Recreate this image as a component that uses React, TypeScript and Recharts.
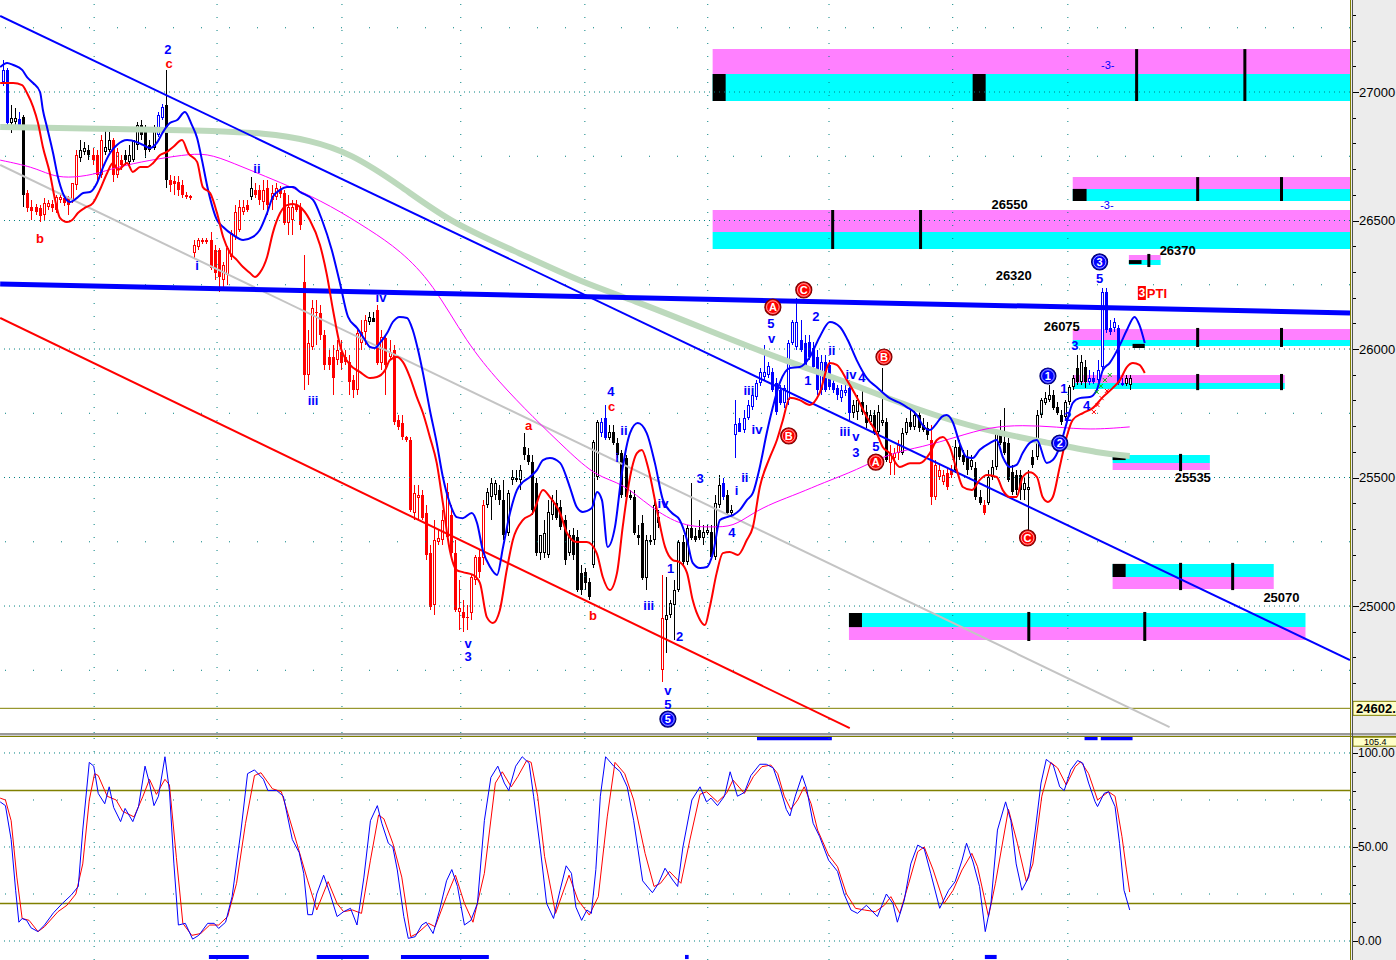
import React from "react";
import {
  ComposedChart, Bar, Line, Scatter, XAxis, YAxis,
  ReferenceLine, ReferenceArea,
} from "recharts";

const FONT = "'Liberation Sans', Arial, Helvetica, sans-serif";
const X_MIN = -0.74;
const X_MAX = 331.04;
const PRICE_MIN = 24506;
const PRICE_MAX = 27358;

// [open, high, low, close, kind]  R/r = red filled/hollow, K/W = black/white, B/b = blue filled/hollow
const candles: [number, number, number, number, string][] = [
  [27039,27125,27023,27086,"b"],[27086,27094,26872,26879,"B"],[26879,26949,26840,26899,"W"],[26883,26938,26868,26899,"W"],
  [26895,26922,26864,26872,"B"],[26903,26911,26553,26599,"K"],[26607,26619,26533,26549,"R"],[26553,26580,26502,26537,"R"],
  [26553,26564,26521,26533,"R"],[26549,26560,26494,26518,"R"],[26521,26588,26502,26568,"r"],[26553,26580,26541,26568,"r"],
  [26564,26580,26533,26549,"R"],[26541,26599,26529,26592,"r"],[26580,26599,26568,26592,"r"],[26588,26599,26556,26568,"R"],
  [26588,26595,26521,26560,"R"],[26580,26646,26568,26646,"r"],[26638,26774,26619,26755,"r"],[26743,26813,26728,26774,"W"],
  [26767,26806,26755,26782,"W"],[26774,26794,26735,26755,"K"],[26755,26782,26716,26735,"R"],[26755,26774,26658,26677,"R"],
  [26677,26833,26665,26813,"r"],[26767,26852,26755,26786,"W"],[26774,26844,26767,26813,"W"],[26813,26821,26650,26677,"R"],
  [26677,26782,26665,26767,"r"],[26735,26755,26697,26716,"R"],[26755,26774,26716,26735,"K"],[26728,26794,26716,26755,"W"],
  [26735,26813,26728,26813,"W"],[26794,26883,26774,26872,"W"],[26872,26891,26813,26833,"K"],[26852,26872,26743,26774,"K"],
  [26794,26813,26767,26774,"K"],[26782,26872,26774,26860,"W"],[26833,26922,26825,26911,"b"],[26899,26953,26891,26942,"b"],
  [26949,27086,26627,26658,"K"],[26658,26677,26611,26638,"R"],[26654,26673,26599,26642,"R"],[26650,26673,26595,26619,"R"],
  [26638,26658,26588,26599,"R"],[26599,26611,26584,26592,"R"],[26595,26599,26580,26588,"R"],
  [26374,26424,26354,26405,"r"],[26397,26432,26385,26424,"r"],[26424,26432,26409,26416,"R"],[26424,26432,26409,26416,"R"],
  [26424,26455,26307,26315,"R"],[26385,26405,26269,26296,"R"],[26385,26393,26222,26280,"R"],[26269,26339,26237,26327,"r"],
  [26288,26401,26249,26393,"r"],[26358,26463,26346,26451,"r"],[26436,26560,26424,26533,"r"],[26463,26580,26455,26553,"r"],
  [26533,26580,26521,26553,"r"],[26560,26580,26533,26541,"R"],[26592,26669,26580,26627,"W"],[26619,26646,26588,26599,"R"],
  [26619,26638,26560,26580,"R"],[26572,26658,26541,26619,"r"],[26627,26658,26521,26560,"R"],[26580,26638,26541,26607,"r"],
  [26592,26646,26580,26627,"r"],[26619,26634,26588,26603,"R"],[26607,26619,26483,26490,"R"],[26490,26599,26444,26553,"r"],
  [26502,26580,26444,26553,"r"],[26560,26580,26533,26541,"R"],[26553,26568,26463,26483,"R"],
  [26261,26366,25840,25899,"R"],[25899,26074,25860,26023,"r"],[26008,26191,25996,26160,"r"],[26140,26191,26016,26144,"r"],
  [26140,26171,26035,26055,"R"],[26055,26074,25918,25938,"R"],[25969,25996,25918,25938,"R"],[25969,26016,25821,25887,"R"],
  [25957,26035,25938,25996,"r"],[25988,26035,25918,25946,"R"],[25969,25996,25938,25949,"R"],[25949,25977,25821,25872,"R"],
  [25879,25899,25809,25840,"R"],[25840,26074,25821,26062,"r"],[26023,26113,25996,26066,"r"],[26066,26132,26016,26113,"r"],
  [26105,26144,26093,26124,"W"],[26121,26144,26105,26105,"K"],[26152,26171,25938,25946,"R"],[25946,26074,25918,26047,"r"],
  [26043,26055,25821,25938,"R"],[25969,26035,25957,25988,"r"],[25996,26016,25704,25716,"R"],[25724,25743,25685,25696,"R"],
  [25712,25743,25646,25657,"R"],[25657,25660,25638,25646,"R"],[25646,25657,25366,25374,"R"],[25362,25471,25335,25440,"r"],
  [25420,25471,25335,25432,"r"],[25432,25451,25335,25343,"R"],[25362,25393,25179,25199,"R"],[25206,25237,24984,24996,"R"],
  [25004,25335,24965,25257,"r"],[25249,25296,25237,25265,"r"],[25257,25374,25237,25335,"r"],[25269,25479,25257,25444,"r"],
  [25354,25393,25179,25206,"R"],[25206,25257,24977,24984,"R"],[24977,25101,24907,24992,"r"],[24977,25023,24899,24953,"R"],
  [24953,25004,24907,24957,"r"],[24973,25120,24946,25113,"r"],[25101,25199,25082,25191,"r"],[25191,25218,25109,25132,"R"],
  [25187,25412,25160,25393,"r"],[25393,25459,25381,25444,"W"],[25424,25498,25335,25479,"W"],[25432,25490,25412,25479,"W"],
  [25451,25471,25393,25412,"K"],[25412,25490,25257,25276,"K"],[25284,25451,25272,25440,"W"],[25490,25529,25471,25502,"W"],
  [25490,25529,25482,25498,"W"],[25490,25549,25451,25529,"W"],[25619,25673,25568,25588,"K"],[25588,25615,25549,25560,"K"],
  [25560,25588,25354,25374,"K"],[25479,25498,25195,25206,"K"],
  [25206,25276,25179,25276,"W"],[25206,25335,25187,25284,"W"],[25199,25412,25187,25366,"W"],[25354,25432,25335,25412,"W"],
  [25401,25451,25335,25343,"K"],[25385,25412,25296,25308,"K"],[25335,25354,25160,25179,"K"],[25206,25296,25195,25276,"W"],
  [25276,25304,25179,25199,"K"],[25269,25296,25055,25062,"K"],[25129,25160,25043,25062,"K"],[25132,25148,25062,25090,"K"],
  [25093,25109,25023,25035,"K"],[25160,25646,25148,25638,"W"],[25502,25724,25490,25716,"W"],[25673,25732,25658,25716,"b"],
  [25732,25782,25646,25654,"B"],[25654,25704,25646,25677,"W"],[25677,25704,25626,25634,"K"],[25634,25654,25576,25588,"K"],
  [25595,25607,25420,25432,"K"],[25576,25588,25412,25424,"K"],[25432,25451,25412,25420,"K"],[25424,25451,25276,25284,"K"],
  [25276,25315,25237,25265,"K"],[25323,25354,25101,25109,"K"],[25109,25276,25062,25257,"W"],[25249,25276,25237,25257,"W"],
  [25257,25412,25237,25393,"W"],[25346,25374,25304,25323,"K"],[24751,25121,24704,24953,"r"],[24946,25113,24817,24965,"W"],
  [24965,25023,24953,25012,"W"],[25004,25101,24868,25062,"W"],[25062,25257,25055,25249,"W"],[25249,25276,25160,25171,"K"],
  [25171,25315,25160,25304,"W"],[25304,25479,25257,25265,"K"],[25273,25304,25249,25257,"K"],[25296,25335,25257,25265,"K"],
  [25265,25315,25237,25288,"W"],[25284,25315,25276,25296,"W"],[25288,25315,25179,25191,"K"],[25191,25432,25179,25401,"W"],
  [25393,25510,25381,25471,"W"],[25479,25498,25412,25424,"B"],[25432,25451,25354,25362,"K"],[25362,25393,25354,25374,"W"],
  [25665,25801,25576,25708,"b"],[25712,25732,25677,25677,"B"],[25685,25763,25673,25732,"b"],[25732,25801,25724,25782,"b"],
  [25774,25840,25763,25821,"b"],[25813,25879,25801,25868,"b"],[25868,25926,25856,25911,"b"],[25891,26016,25879,25911,"b"],
  [25899,25949,25887,25934,"b"],[25911,25926,25833,25840,"B"],[25868,25887,25743,25755,"B"],[25840,25860,25782,25790,"B"],
  [25790,25860,25771,25848,"b"],[25801,26035,25782,26023,"b"],[26023,26113,26016,26105,"b"],
  [26008,26199,25996,26105,"b"],[26035,26113,25988,25996,"B"],[26023,26055,25918,25930,"B"],[26027,26055,25957,25969,"B"],
  [26004,26027,25911,25930,"B"],[25969,25996,25821,25840,"B"],[25840,25977,25821,25949,"b"],[25949,25977,25833,25840,"B"],
  [25938,25957,25840,25852,"B"],[25868,25887,25829,25840,"B"],[25848,25860,25801,25821,"B"],[25809,25860,25794,25840,"b"],
  [25829,25860,25817,25840,"b"],[25848,25879,25724,25751,"B"],[25751,25801,25732,25782,"W"],[25755,25821,25724,25801,"W"],
  [25794,25840,25743,25755,"K"],[25755,25782,25693,25712,"K"],[25716,25763,25704,25743,"W"],[25743,25763,25665,25677,"K"],
  [25677,25782,25665,25755,"W"],[25712,25926,25700,25724,"W"],[25716,25732,25560,25568,"K"],[25556,25626,25510,25595,"r"],
  [25576,25615,25510,25595,"r"],[25595,25646,25568,25626,"r"],[25595,25693,25588,25673,"W"],[25673,25732,25665,25716,"W"],
  [25716,25782,25685,25696,"K"],[25696,25763,25685,25743,"W"],[25743,25763,25677,25693,"K"],[25704,25732,25677,25685,"K"],
  [25693,25716,25646,25665,"K"],[25646,25704,25393,25424,"R"],[25424,25568,25412,25549,"r"],[25502,25549,25490,25529,"r"],
  [25482,25529,25471,25510,"r"],[25518,25537,25451,25463,"R"],[25529,25549,25498,25510,"R"],[25529,25646,25518,25619,"W"],
  [25619,25646,25568,25580,"K"],[25588,25607,25549,25560,"K"],[25580,25607,25510,25529,"K"],[25541,25588,25529,25568,"W"],
  [25537,25560,25412,25424,"K"],[25424,25451,25393,25401,"K"],[25393,25412,25354,25362,"R"],[25401,25529,25393,25502,"W"],
  [25502,25568,25490,25541,"W"],[25541,25685,25529,25673,"W"],[25673,25724,25626,25634,"K"],[25638,25771,25588,25595,"K"],
  [25634,25654,25482,25490,"K"],[25521,25549,25432,25444,"K"],[25510,25529,25432,25451,"K"],[25510,25529,25412,25451,"K"],
  [25451,25498,25412,25479,"W"],[25451,25529,25288,25463,"W"],[25580,25607,25537,25549,"K"],[25580,25763,25568,25743,"W"],
  [25743,25809,25732,25801,"W"],[25790,25833,25782,25809,"W"],[25801,25860,25794,25821,"W"],[25821,25840,25763,25770,"K"],
  [25774,25794,25743,25751,"K"],[25743,25763,25704,25716,"K"],[25736,25801,25724,25794,"W"],[25794,25860,25782,25852,"W"],
  [25852,25899,25840,25887,"W"],[25926,25977,25860,25872,"K"],[25872,25977,25860,25949,"W"],[25930,25957,25848,25872,"K"],
  [25872,25918,25860,25887,"b"],[25887,25911,25864,25872,"B"],[25879,25957,25872,25918,"b"],[25930,26237,25918,26222,"b"],
  [26222,26237,26062,26074,"B"],[26082,26113,26055,26066,"B"],[26082,26121,26066,26105,"b"],[26082,26093,25860,25868,"B"],
  [25868,25887,25856,25860,"B"],[25864,25899,25856,25887,"W"],[25860,25899,25840,25887,"W"],
];

// [bar index, price]
const bandUpper: [number, number][] = [
  [-0.7,27097],[1.0,27113],[2.5,27105],[4.7,27086],[5.9,27058],[7.4,27035],[9.1,27000],[9.8,26930],[10.8,26864],
  [12.3,26763],[13.5,26669],[14.7,26607],[16.5,26572],[18.2,26588],[19.7,26607],[21.4,26611],[23.1,26646],[24.6,26708],
  [26.3,26763],[28.0,26794],[30.5,26813],[32.9,26805],[34.4,26794],[36.1,26782],[37.8,26802],[39.3,26844],[41.0,26879],
  [42.8,26891],[44.7,26922],[46.4,26872],[47.7,26821],[48.9,26735],[50.4,26619],[52.6,26502],[54.1,26475],[56.5,26444],
  [59.0,26424],[61.4,26436],[63.1,26463],[64.9,26529],[66.3,26592],[68.1,26619],[69.8,26630],[71.3,26630],[73.0,26611],
  [76.2,26580],[78.4,26502],[80.8,26385],[82.8,26257],[84.8,26125],[87.0,26082],[88.5,26047],[90.2,26008],[91.4,26004],
  [92.6,26023],[94.4,26062],[95.8,26105],[97.5,26125],[99.3,26121],[100.7,26074],[102.0,25996],[103.2,25907],[104.9,25763],
  [106.6,25634],[108.1,25502],[109.8,25401],[111.5,25346],[113.0,25342],[115.2,25362],[116.5,25323],[117.9,25218],
  [119.7,25152],[121.4,25121],[122.9,25230],[124.6,25362],[126.3,25451],[127.8,25483],[129.5,25502],[131.2,25529],
  [132.7,25568],[134.4,25576],[136.9,25557],[139.3,25463],[141.0,25385],[142.5,25366],[144.7,25381],[146.0,25444],
  [147.2,25412],[148.6,25230],[150.4,25308],[152.1,25518],[154.1,25673],[156.0,25712],[158.2,25673],[160.2,25557],
  [162.2,25412],[164.4,25362],[166.3,25335],[168.1,25257],[169.5,25168],[171.3,25148],[173.0,25152],[174.5,25206],
  [176.2,25335],[177.9,25346],[179.4,25354],[181.1,25374],[182.8,25412],[184.3,25440],[186.0,25541],[187.7,25673],
  [189.2,25774],[190.9,25868],[193.4,25926],[195.8,25930],[198.3,25969],[200.7,26047],[203.2,26105],[205.7,26086],
  [207.6,26035],[209.8,25957],[212.3,25887],[214.7,25852],[217.9,25809],[220.4,25790],[222.1,25774],[224.6,25743],
  [226.0,25704],[227.8,25685],[229.5,25712],[230.7,25736],[231.9,25743],[233.4,25716],[235.1,25634],[236.8,25580],
  [238.3,25576],[240.0,25607],[242.5,25634],[244.2,25646],[245.7,25580],[247.4,25541],[249.1,25549],[250.6,25595],
  [252.3,25634],[254.1,25646],[256.5,25557],[258.0,25568],[259.7,25619],[261.4,25712],[262.9,25790],[264.6,25809],
  [267.1,25813],[268.8,25840],[270.3,25918],[272.0,25946],[274.5,26016],[276.2,26074],[278.1,26125],[279.3,26093],
  [280.6,26023],
];

const bandLower: [number, number][] = [
  [-0.7,27035],[2.5,27035],[4.7,27027],[5.9,26996],[7.4,26942],[8.6,26879],[9.8,26786],[11.5,26685],[12.8,26580],
  [14.0,26510],[15.7,26494],[17.0,26502],[18.4,26529],[20.1,26549],[22.1,26568],[23.8,26619],[25.6,26685],[27.0,26724],
  [28.3,26697],[30.5,26724],[31.9,26689],[33.7,26708],[35.4,26708],[36.9,26724],[38.6,26755],[40.3,26767],[41.8,26786],
  [44.0,26813],[45.5,26763],[47.7,26728],[49.1,26630],[50.9,26607],[52.6,26529],[54.1,26436],[55.8,26374],[57.5,26346],
  [59.0,26319],[60.7,26296],[61.9,26280],[63.1,26296],[64.9,26358],[66.3,26451],[68.1,26529],[69.8,26560],[71.3,26564],
  [73.0,26553],[75.4,26502],[77.9,26405],[79.6,26288],[81.1,26152],[82.8,26016],[85.3,25938],[87.7,25911],[90.2,25887],
  [91.9,25891],[93.9,25918],[95.1,25957],[96.8,25969],[98.3,25949],[100.0,25891],[101.7,25813],[103.2,25751],
  [104.9,25658],[106.6,25556],[108.1,25401],[109.8,25218],[111.5,25140],[113.0,25132],[115.5,25121],[117.2,25090],
  [118.9,24957],[120.4,24934],[122.1,24984],[123.8,25140],[125.3,25257],[127.8,25335],[130.2,25362],[132.7,25451],
  [134.4,25424],[136.9,25362],[138.6,25284],[141.0,25249],[143.5,25249],[145.9,25206],[147.4,25113],[149.1,25062],
  [150.9,25129],[152.3,25308],[154.1,25502],[155.8,25595],[157.0,25607],[158.5,25541],[160.7,25374],[162.7,25230],
  [164.6,25179],[166.3,25171],[168.1,25129],[169.5,25023],[171.3,24946],[172.5,24926],[173.7,24996],[175.4,25129],
  [176.9,25206],[178.6,25210],[180.6,25199],[182.8,25257],[184.3,25308],[186.0,25463],[188.5,25580],[190.2,25646],
  [191.6,25720],[193.4,25810],[195.8,25801],[198.3,25782],[200.7,25829],[203.2,25946],[204.9,25938],[207.4,25879],
  [209.8,25813],[212.3,25735],[214.7,25673],[216.2,25619],[217.9,25595],[220.4,25541],[222.9,25556],[225.3,25556],
  [227.8,25595],[229.5,25646],[231.0,25658],[232.7,25619],[234.4,25529],[235.9,25463],[238.1,25451],[240.0,25490],
  [241.8,25510],[244.2,25502],[245.7,25451],[247.4,25424],[249.1,25424],[250.6,25502],[252.3,25521],[254.1,25502],
  [255.5,25424],[256.8,25405],[258.0,25424],[259.7,25541],[261.4,25658],[262.9,25724],[265.4,25751],[267.8,25770],
  [270.3,25813],[272.7,25848],[274.5,25879],[276.2,25930],[277.7,25946],[279.3,25938],[280.6,25907],
];

const maSlow: [number, number][] = [
  [-0.7,26864],[23.8,26856],[48.4,26852],[64.9,26840],[75.4,26813],[85.3,26763],[97.5,26638],[109.8,26494],
  [125.3,26385],[142.5,26257],[154.8,26191],[171.3,26086],[191.6,25957],[208.1,25868],[224.6,25763],[240.8,25685],
  [257.2,25634],[269.5,25595],[276.9,25584],
];

const maMid: [number, number][] = [
  [-0.7,26735],[7.4,26708],[11.5,26677],[15.7,26665],[22.1,26677],[28.0,26708],[36.1,26735],[44.2,26755],[50.1,26763],
  [56.5,26724],[64.9,26669],[71.3,26627],[80.3,26560],[90.2,26463],[97.5,26385],[105.6,26257],[114.0,26023],
  [122.1,25868],[130.2,25736],[138.6,25607],[145.9,25502],[152.3,25479],[159.0,25385],[167.1,25308],[174.5,25308],
  [179.4,25308],[184.3,25362],[189.2,25401],[195.8,25440],[201.5,25479],[209.8,25529],[217.9,25595],[226.0,25619],
  [234.4,25658],[242.5,25697],[250.6,25704],[258.9,25697],[267.1,25685],[276.9,25697],
];

const trendTop: [number, number][] = [[-0.7, 27296], [X_MAX, 24790]];
const trendFlat: [number, number][] = [[-0.7, 26253], [X_MAX, 26140]];
const trendGray: [number, number][] = [[-0.7, 26716], [286.7, 24529]];
const trendRed: [number, number][] = [[-0.7, 26121], [208.1, 24525]];

// target boxes: [from bar, to bar, low, high, kind]
const zoneBands: [number, number, number, number, string][] = [
  [174.4, X_MAX, 27070, 27167, "pink"], [174.4, X_MAX, 26965, 27070, "cyan"],
  [174.4, 177.6, 26965, 27070, "mark"], [238.3, 241.5, 26965, 27070, "mark"],
  [174.4, X_MAX, 26455, 26541, "pink"], [174.4, X_MAX, 26389, 26455, "cyan"],
  [262.9, X_MAX, 26623, 26669, "pink"], [262.9, X_MAX, 26576, 26623, "cyan"], [262.9, 266.3, 26576, 26623, "mark"],
  [276.7, 284.5, 26346, 26366, "pink"], [276.7, 284.5, 26327, 26346, "cyan"], [276.7, 279.8, 26331, 26346, "mark"],
  [262.9, X_MAX, 26035, 26078, "pink"], [262.9, X_MAX, 26012, 26035, "cyan"], [277.6, 280.6, 26004, 26020, "mark"],
  [262.9, 315.0, 25868, 25899, "pink"], [262.9, 315.0, 25844, 25868, "cyan"],
  [272.7, 296.6, 25557, 25588, "cyan"], [272.7, 296.6, 25529, 25557, "pink"], [272.7, 275.9, 25568, 25588, "mark"],
  [272.7, 312.3, 25113, 25164, "cyan"], [272.7, 312.3, 25066, 25113, "pink"], [272.7, 275.9, 25113, 25164, "mark"],
  [207.9, 320.1, 24918, 24973, "cyan"], [207.9, 320.1, 24868, 24918, "pink"], [207.9, 211.1, 24918, 24973, "mark"],
];

// [bar, low, high]
const zoneTicks: [number, number, number][] = [
  [278.6, 26965, 27167], [305.2, 26965, 27167],
  [203.9, 26389, 26541], [225.5, 26389, 26541],
  [293.6, 26576, 26669], [314.2, 26576, 26669],
  [281.6, 26319, 26370],
  [293.6, 26008, 26082], [314.2, 26008, 26082],
  [293.6, 25840, 25903], [314.2, 25840, 25903],
  [289.4, 25525, 25592],
  [289.4, 25062, 25168], [302.2, 25062, 25168],
  [252.1, 24864, 24977], [280.6, 24864, 24977],
];

// [bar, price, text, tone]
const waveText: [number, number, string, string][] = [
  [40.5,27167,"2","blue"],[40.8,27113,"c","red"],[9.1,26432,"b","red"],[47.7,26327,"i","blue"],[62.4,26704,"ii","blue"],
  [76.2,25801,"iii","blue"],[92.9,26202,"iv","blue"],[114.3,24856,"v","blue"],[114.3,24802,"3","blue"],[129.2,25704,"a","red"],
  [149.4,25833,"4","blue"],[149.6,25778,"c","red"],[152.6,25685,"ii","blue"],[150.9,25580,"i","blue"],[145.0,24965,"b","red"],
  [158.7,25004,"iii","blue"],[162.2,25401,"iv","blue"],[163.4,24673,"v","blue"],[163.4,24619,"5","blue"],[164.1,25148,"1","blue"],
  [166.3,24883,"2","blue"],[171.3,25498,"3","blue"],[180.3,25448,"i","blue"],[179.1,25288,"4","blue"],[182.3,25502,"ii","blue"],
  [185.3,25689,"iv","blue"],[183.3,25837,"iii","blue"],[188.7,26101,"5","blue"],[188.9,26043,"v","blue"],[199.8,26128,"2","blue"],
  [197.8,25879,"1","blue"],[203.7,25996,"ii","blue"],[208.4,25903,"iv","blue"],[211.1,25891,"4","blue"],[206.9,25681,"iii","blue"],
  [209.6,25658,"v","blue"],[209.6,25599,"3","blue"],[214.5,25619,"5","blue"],[260.7,25848,"1","blue"],[261.7,25739,"2","blue"],
  [263.4,26012,"3","blue"],[266.3,25782,"4","blue"],[269.5,26276,"5","blue"],
];

const waveRings: [number, number, string, string][] = [
  [163.4,24560,"5","blue"],[189.2,26163,"A","red"],[196.8,26230,"C","red"],[193.1,25662,"B","red"],
  [216.5,25969,"B","red"],[214.5,25560,"A","red"],[251.8,25265,"C","red"],[256.8,25895,"1","blue"],
  [259.7,25634,"2","blue"],[269.5,26339,"3","blue"],
];

const levelText: [number, number, string][] = [
  [247.4,26564,"26550"],[248.4,26288,"26320"],[288.7,26385,"26370"],[260.2,26086,"26075"],
  [292.4,25502,"25535"],[314.2,25035,"25070"],
];

const countTags: [number, number, string][] = [[271.5, 27105, "-3-"], [271.3, 26560, "-3-"]];
const ptiMark: [number, number, string][] = [[282.1, 26218, "PTI"]];

const crossUp: [number, number][] = [[268.8,25833],[269.8,25856],[270.8,25879],[272.0,25899]];
const crossDown: [number, number][] = [[268.1,25755],[269.0,25782],[270.0,25809],[271.3,25837]];

const gridX = [22.4, 52.6, 83.3, 112.5, 143.0, 173.2, 203.0, 233.4, 261.7];
const priceGridMajor = [25000, 25500, 26000, 26500, 27000];
const priceGridMinor = [24750, 25250, 25750, 26250, 26750, 27250];
const priceTicks = [24602, ...Array.from({ length: 27 }, (_, k) => 24700 + k * 100)];

// ---- stochastic pane ----
const stochK: [number, number][] = [
  [-0.7,74],[0.6,72],[2.0,54],[3.1,27],[3.9,10],[4.7,12],[5.8,11],[6.9,7],[8.6,5],[10.2,8.5],[12.4,15],[14.6,20],
  [16.8,24.5],[18.5,29],[19.6,59],[21.2,95],[22.3,93],[23.4,78.5],[25.0,73],[26.1,82],[27.2,71],[28.9,63.5],[30.0,70.5],
  [31.9,63.5],[33.3,71.5],[34.9,93],[36.0,84],[37.1,72],[38.2,77],[39.8,98],[40.9,80],[42.0,41],[43.1,8.5],[44.8,9.4],
  [46.6,1],[48.1,3],[50.3,9.4],[51.9,9.4],[53.0,6.7],[54.7,10],[56.3,23.6],[58.5,59],[60.1,89],[61.8,91],[64.0,86],
  [65.1,80],[67.3,80],[68.9,77],[71.1,54],[72.8,47],[73.9,36],[74.9,14],[76.0,14],[77.1,25],[78.8,35],[80.4,25],
  [82.1,13],[83.7,15.6],[85.4,17.4],[87.0,8.5],[88.7,34],[90.3,64],[92.0,72],[93.1,62.6],[94.7,52],[95.8,50],[96.9,37.8],
  [98.5,13],[99.6,1.4],[101.3,2.3],[102.9,8.5],[104.0,10],[105.7,4],[107.3,16.5],[109.0,32],[110.3,38],[111.7,29],
  [113.4,8.5],[115.0,11],[116.6,20],[118.3,64],[119.9,87],[121.6,93],[123.2,84],[124.3,80],[126.0,93],[127.6,98],
  [129.3,94.5],[130.4,77],[132.0,50],[133.6,20],[135.3,12],[136.9,27],[138.4,40],[139.7,36],[140.8,18],[142.2,11],
  [143.5,16.5],[144.6,14.7],[145.7,38],[146.8,77],[148.1,98],[150.1,93],[151.7,90],[153.4,82],[155.0,64],[157.2,32],
  [159.6,25.7],[161.1,30.7],[162.7,38.7],[164.4,33],[165.8,29],[167.1,50],[169.3,75],[171.3,82],[172.9,74],[174.0,76],
  [175.6,72],[177.3,77],[178.7,90],[180.5,77],[182.2,79],[183.8,88],[186.0,94],[187.6,94],[189.3,92],[190.9,82],
  [192.5,70],[193.4,66.5],[194.7,77],[196.4,88],[197.5,81],[199.1,62.6],[200.7,55.5],[202.9,43],[205.1,37],[206.7,25],
  [208.4,16.5],[210.0,14.7],[212.2,19],[214.9,13],[217.1,25],[218.7,20],[219.8,10],[221.5,21.8],[223.1,41],[224.8,51],
  [226.4,49],[228.0,36],[230.2,17.4],[232.4,27],[234.0,31.6],[235.7,43],[236.8,52],[238.4,42],[240.0,29],[241.4,5],
  [242.8,20],[244.4,59],[246.4,74],[247.7,64],[249.0,41],[250.4,27],[252.1,34],[253.7,59],[255.1,84],[256.4,96.6],
  [258.1,93.6],[259.7,82],[260.8,80],[262.4,91],[264.1,96],[265.4,94.5],[266.8,84],[268.4,74],[269.0,71.5],[270.6,78.5],
  [271.7,79.4],[273.3,71.5],[274.4,52],[275.5,27],[276.9,16.5],
];

const stochD: [number, number][] = [
  [-0.7,76],[0.6,75],[2.0,64],[3.4,34],[4.7,12],[6.4,11],[8.6,5],[10.2,7.6],[13.5,15.6],[15.7,19],[17.9,25],[19.6,41],
  [21.2,75],[22.5,89],[23.4,88],[25.6,77],[27.8,75],[29.4,69],[32.2,66],[34.4,77],[36.0,86],[37.7,78],[39.8,86],
  [40.9,83],[42.6,44.5],[44.2,9.4],[46.4,3],[48.6,4],[50.8,8.5],[53.0,8.5],[55.2,13],[57.4,30.7],[59.6,62.6],[61.8,88],
  [63.4,89.5],[66.2,81],[68.4,79.4],[70.0,68],[72.2,52],[74.9,32],[77.1,16.5],[79.9,31.6],[82.1,20],[83.7,15.6],
  [85.9,16.5],[88.1,14.7],[90.3,43],[92.3,67],[93.6,65],[95.8,52],[98.0,34],[100.2,2.3],[101.8,4],[104.6,9.4],[106.2,7.6],
  [109.0,23.6],[111.2,35],[113.4,20],[115.5,10],[118.3,36],[121.0,84],[122.7,90],[124.9,82],[126.5,87.4],[128.7,96],
  [129.8,95],[131.4,77],[133.1,45],[135.8,14.7],[139.1,35],[141.3,21.8],[144.1,13.8],[146.3,23.6],[148.5,66],[150.4,95],
  [152.8,89],[155.0,75],[157.8,46.6],[160.0,29],[161.6,30.7],[163.8,37],[166.6,30.7],[168.8,53.7],[171.3,78],[172.9,79.4],
  [175.6,74],[177.8,78.5],[179.4,85.6],[182.2,78.5],[184.4,87.4],[186.5,92.7],[188.7,93.6],[190.4,89],[192.0,77],
  [193.6,70],[195.3,75],[196.9,82],[198.6,73],[200.2,59],[202.9,45.7],[205.1,39.5],[207.3,25],[209.5,17.4],[211.7,16.5],
  [214.4,15.6],[216.6,19],[218.2,23.6],[220.4,14.7],[222.6,30.7],[224.8,47.5],[226.4,50],[228.6,37.8],[231.3,20],
  [233.5,27],[235.7,37.8],[238.1,46.6],[239.5,39.5],[242.2,13],[243.9,30.7],[247.1,70],[249.3,52],[251.5,31.6],
  [253.1,41],[255.3,77],[257.5,95],[259.2,92],[261.3,83],[263.5,92.7],[264.9,95.4],[266.8,89],[269.0,75],[271.7,79.4],
  [273.3,77],[275.0,55.5],[276.1,37.8],[276.9,26],
];

// signal strips: [from bar, to bar, low, high]
const stochStrips: [number, number, number, number][] = [
  [185.3, 203.7, 106.8, 108.5], [265.8, 269.0, 106.8, 108.5], [269.8, 277.6, 106.8, 108.5],
  [50.6, 60.4, -9.6, -7.4], [77.1, 89.9, -9.6, -7.4], [97.8, 119.4, -9.6, -7.4],
  [167.6, 168.5, -9.6, -7.4], [241.3, 244.2, -9.6, -7.4],
];
const stochTicks = [0, 10, 20, 30, 40, 50, 60, 70, 80, 90, 100, 106.0];

const BLUE = "#0000ff";
const RED = "#ff0000";
const ZONE_FILL: Record<string, string> = { pink: "#ff80ff", cyan: "#00ffff", mark: "#000000" };
const CANDLE_COLOR: Record<string, string> = { R: RED, r: RED, K: "#000", W: "#000", B: BLUE, b: BLUE };
const HOLLOW: Record<string, boolean> = { r: true, W: true, b: true };

const rows = candles.map(([o, h, l, c, k], i) => ({ i, o, h, l, c, k }));
const pts = (a: [number, number][]) => a.map(([i, v]) => ({ i, v }));

function Candle(props: any) {
  const { x, y, width, height, payload } = props;
  if (!payload || y == null || isNaN(y)) return <g />;
  const top = Math.min(y, y + height);
  const span = Math.abs(height);
  const { o, h, l, c, k } = payload;
  const color = CANDLE_COLOR[k];
  const per = span / (h - l || 1);
  const yo = top + (h - o) * per;
  const yc = top + (h - c) * per;
  const bTop = Math.round(Math.min(yo, yc));
  const bH = Math.max(1, Math.round(Math.abs(yo - yc)));
  const cx = Math.round(x + width / 2);
  return (
    <g shapeRendering="crispEdges">
      <line x1={cx + 0.5} x2={cx + 0.5} y1={Math.round(top)} y2={Math.round(top + span)} stroke={color} strokeWidth={1} />
      <rect x={cx - 0.5} y={bTop + 0.5} width={2} height={Math.max(0.01, bH - 1)}
        fill={HOLLOW[k] ? "#fff" : color} stroke={color} strokeWidth={1} />
    </g>
  );
}

function WaveText(props: any) {
  const { cx, cy, payload } = props;
  if (cx == null || cy == null) return <g />;
  return (
    <text x={cx} y={cy} dy="0.35em" textAnchor="middle" fontFamily={FONT} fontSize={13} fontWeight={700}
      fill={payload.tone === "red" ? RED : BLUE}>{payload.t}</text>
  );
}

function WaveRing(props: any) {
  const { cx, cy, payload } = props;
  if (cx == null || cy == null) return <g />;
  const red = payload.tone === "red";
  return (
    <g>
      <circle cx={cx} cy={cy} r={8} fill={red ? RED : BLUE} stroke={red ? "#7a0000" : "#00006e"} strokeWidth={1.2} />
      <circle cx={cx} cy={cy} r={6.3} fill="none" stroke="#fff" strokeWidth={0.8} opacity={0.8} />
      <text x={cx} y={cy} dy="0.36em" textAnchor="middle" fontFamily={FONT} fontSize={11} fontWeight={700} fill="#fff">
        {payload.t}
      </text>
    </g>
  );
}

function LevelText(props: any) {
  const { cx, cy, payload } = props;
  if (cx == null || cy == null) return <g />;
  return (
    <text x={cx} y={cy} dy="0.35em" textAnchor="middle" fontFamily={FONT} fontSize={13} fontWeight={700} fill="#000">
      {payload.t}
    </text>
  );
}

function TagText(props: any) {
  const { cx, cy, payload } = props;
  if (cx == null || cy == null) return <g />;
  return (
    <text x={cx} y={cy} dy="0.35em" textAnchor="middle" fontFamily={FONT} fontSize={11} fill={BLUE}>{payload.t}</text>
  );
}

function PtiText(props: any) {
  const { cx, cy, payload } = props;
  if (cx == null || cy == null) return <g />;
  return (
    <g>
      <rect x={cx - 13} y={cy - 7} width={8} height={14} fill={RED} />
      <text x={cx - 9} y={cy} dy="0.36em" textAnchor="middle" fontFamily={FONT} fontSize={12} fontWeight={700} fill="#fff">3</text>
      <text x={cx - 4} y={cy} dy="0.36em" fontFamily={FONT} fontSize={13} fontWeight={700} fill={RED}>{payload.t}</text>
    </g>
  );
}

function Cross(props: any) {
  const { cx, cy, payload } = props;
  if (cx == null || cy == null) return <g />;
  const col = payload.up ? "#00c000" : RED;
  return (
    <g stroke={col} strokeWidth={1}>
      <line x1={cx - 2} y1={cy - 2} x2={cx + 2} y2={cy + 2} />
      <line x1={cx - 2} y1={cy + 2} x2={cx + 2} y2={cy - 2} />
    </g>
  );
}

function PriceTick(props: any) {
  const { y, payload } = props;
  const v = payload.value;
  const ax = 1350;
  if (v === 24602) {
    return (
      <g>
        <rect x={ax + 3} y={y - 7} width={46} height={14} fill="#ffffc8" stroke="#808000" />
        <text x={ax + 6} y={y} dy="0.36em" fontFamily={FONT} fontSize={13} fontWeight={700} fill="#000">24602.</text>
      </g>
    );
  }
  const major = v % 500 === 0;
  return (
    <g shapeRendering="crispEdges">
      <line x1={ax + 3} x2={ax + (major ? 9 : 6)} y1={Math.round(y) + 0.5} y2={Math.round(y) + 0.5} stroke="#000" />
      {major && (
        <text x={ax + 9} y={y} dy="0.36em" fontFamily={FONT} fontSize={13} fill="#000">{v}</text>
      )}
    </g>
  );
}

function StochTick(props: any) {
  const { y, payload } = props;
  const v = payload.value;
  const ax = 1350;
  if (v === 106.0) {
    return (
      <g>
        <rect x={ax + 3} y={y - 4.5} width={46} height={9} fill="#ffffc8" stroke="#808000" />
        <text x={ax + 14} y={y} dy="0.33em" fontFamily={FONT} fontSize={9} fill="#000">105.4</text>
      </g>
    );
  }
  const major = v % 50 === 0;
  return (
    <g shapeRendering="crispEdges">
      <line x1={ax + 3} x2={ax + (major ? 8 : 6)} y1={Math.round(y) + 0.5} y2={Math.round(y) + 0.5} stroke="#000" />
      {major && (
        <text x={ax + 8} y={y} dy="0.36em" fontFamily={FONT} fontSize={12} fill="#000">{v.toFixed(2)}</text>
      )}
    </g>
  );
}

function PricePane() {
  return (
    <ComposedChart width={1396} height={733} data={rows} margin={{ top: 0, right: 0, bottom: 0, left: 0 }}>
      <XAxis dataKey="i" type="number" domain={[X_MIN, X_MAX]} allowDataOverflow hide />
      <YAxis orientation="right" width={46} type="number" domain={[PRICE_MIN, PRICE_MAX]} allowDataOverflow
        ticks={priceTicks} interval={0} tick={PriceTick} tickLine={false} axisLine={false} tickSize={0} tickMargin={0} />

      {priceGridMajor.map((v) => (
        <ReferenceLine key={`gm${v}`} y={v} stroke="#008080" strokeDasharray="1 4" />
      ))}
      {priceGridMinor.map((v) => (
        <ReferenceLine key={`gn${v}`} y={v} stroke="#008080" strokeDasharray="1 27" />
      ))}
      {gridX.map((v) => (
        <ReferenceLine key={`gx${v}`} x={v} stroke="#008080" strokeDasharray="1 12" />
      ))}
      <ReferenceLine y={24602} stroke="#808000" strokeWidth={1} />

      {zoneBands.map(([x1, x2, lo, hi, kind], n) => (
        <ReferenceArea key={`z${n}`} x1={x1} x2={x2} y1={lo} y2={hi} fill={ZONE_FILL[kind]} fillOpacity={1}
          stroke="none" ifOverflow="visible" />
      ))}
      {zoneTicks.map(([x, lo, hi], n) => (
        <ReferenceLine key={`zt${n}`} segment={[{ x, y: lo }, { x, y: hi }]} stroke="#000" strokeWidth={3} />
      ))}

      <Line data={pts(trendGray)} dataKey="v" type="linear" stroke="#c4c4c4" strokeWidth={2} dot={false} activeDot={false} isAnimationActive={false} />
      <Line data={pts(trendRed)} dataKey="v" type="linear" stroke={RED} strokeWidth={2} dot={false} activeDot={false} isAnimationActive={false} />
      <Line data={pts(maSlow)} dataKey="v" type="basis" stroke="#bcd9bc" strokeWidth={6} dot={false} activeDot={false} isAnimationActive={false} />
      <Line data={pts(maMid)} dataKey="v" type="basis" stroke="#ff00ff" strokeWidth={1} dot={false} activeDot={false} isAnimationActive={false} />
      <Line data={pts(trendTop)} dataKey="v" type="linear" stroke={BLUE} strokeWidth={2} dot={false} activeDot={false} isAnimationActive={false} />
      <Line data={pts(trendFlat)} dataKey="v" type="linear" stroke={BLUE} strokeWidth={5} dot={false} activeDot={false} isAnimationActive={false} />

      <Bar dataKey={(d: any) => [d.l, d.h]} barSize={3} shape={Candle} isAnimationActive={false} />

      <Line data={pts(bandUpper)} dataKey="v" type="monotone" stroke={BLUE} strokeWidth={2} dot={false} activeDot={false} isAnimationActive={false} />
      <Line data={pts(bandLower)} dataKey="v" type="monotone" stroke={RED} strokeWidth={2} dot={false} activeDot={false} isAnimationActive={false} />

      <Scatter data={crossUp.map(([i, v]) => ({ i, v, up: true }))} dataKey="v" shape={Cross} isAnimationActive={false} />
      <Scatter data={crossDown.map(([i, v]) => ({ i, v, up: false }))} dataKey="v" shape={Cross} isAnimationActive={false} />
      <Scatter data={waveText.map(([i, v, t, tone]) => ({ i, v, t, tone }))} dataKey="v" shape={WaveText} isAnimationActive={false} />
      <Scatter data={waveRings.map(([i, v, t, tone]) => ({ i, v, t, tone }))} dataKey="v" shape={WaveRing} isAnimationActive={false} />
      <Scatter data={levelText.map(([i, v, t]) => ({ i, v, t }))} dataKey="v" shape={LevelText} isAnimationActive={false} />
      <Scatter data={countTags.map(([i, v, t]) => ({ i, v, t }))} dataKey="v" shape={TagText} isAnimationActive={false} />
      <Scatter data={ptiMark.map(([i, v, t]) => ({ i, v, t }))} dataKey="v" shape={PtiText} isAnimationActive={false} />
    </ComposedChart>
  );
}

function StochPane() {
  return (
    <ComposedChart width={1396} height={223} margin={{ top: 0, right: 0, bottom: 0, left: 0 }}>
      <XAxis dataKey="i" type="number" domain={[X_MIN, X_MAX]} allowDataOverflow hide />
      <YAxis orientation="right" width={46} type="number" domain={[-10.1, 108.5]} allowDataOverflow
        ticks={stochTicks} interval={0} tick={StochTick} tickLine={false} axisLine={false} tickSize={0} tickMargin={0} />
      {[0, 50, 100].map((v) => (
        <ReferenceLine key={`sg${v}`} y={v} stroke="#008080" strokeDasharray="1 4" />
      ))}
      {[25, 75].map((v) => (
        <ReferenceLine key={`sn${v}`} y={v} stroke="#008080" strokeDasharray="1 27" />
      ))}
      {gridX.map((v) => (
        <ReferenceLine key={`sx${v}`} x={v} stroke="#008080" strokeDasharray="1 12" />
      ))}
      <ReferenceLine y={80} stroke="#808000" strokeWidth={1.5} />
      <ReferenceLine y={20} stroke="#808000" strokeWidth={1.5} />
      {stochStrips.map(([x1, x2, lo, hi], n) => (
        <ReferenceArea key={`ss${n}`} x1={x1} x2={x2} y1={lo} y2={hi} fill={BLUE} fillOpacity={1} stroke="none" ifOverflow="visible" />
      ))}
      <Line data={pts(stochD)} dataKey="v" type="linear" stroke={RED} strokeWidth={1} dot={false} activeDot={false} isAnimationActive={false} />
      <Line data={pts(stochK)} dataKey="v" type="linear" stroke={BLUE} strokeWidth={1} dot={false} activeDot={false} isAnimationActive={false} />
    </ComposedChart>
  );
}

export default function App() {
  return (
    <div style={{ width: 1396, height: 960, position: "relative", background: "#fff", overflow: "hidden", fontFamily: FONT }}>
      <style>{"body{margin:0;}"}</style>
      <div style={{ position: "absolute", left: 1350, top: 0, width: 46, height: 960, background: "#ececec" }} />
      <div style={{ position: "absolute", left: 0, top: 0 }}>
        <PricePane />
      </div>
      <div style={{ position: "absolute", left: 0, top: 733, width: 1396, height: 1, borderTop: "2px solid #9a9a9a", borderBottom: "1px solid #808000", background: "#d0d0d0" }} />
      <div style={{ position: "absolute", left: 0, top: 737 }}>
        <StochPane />
      </div>
      <div style={{ position: "absolute", left: 1350, top: 0, width: 1, height: 960, background: "#808000" }} />
      <div style={{ position: "absolute", left: 1352, top: 0, width: 1, height: 960, background: "#505050" }} />
    </div>
  );
}
